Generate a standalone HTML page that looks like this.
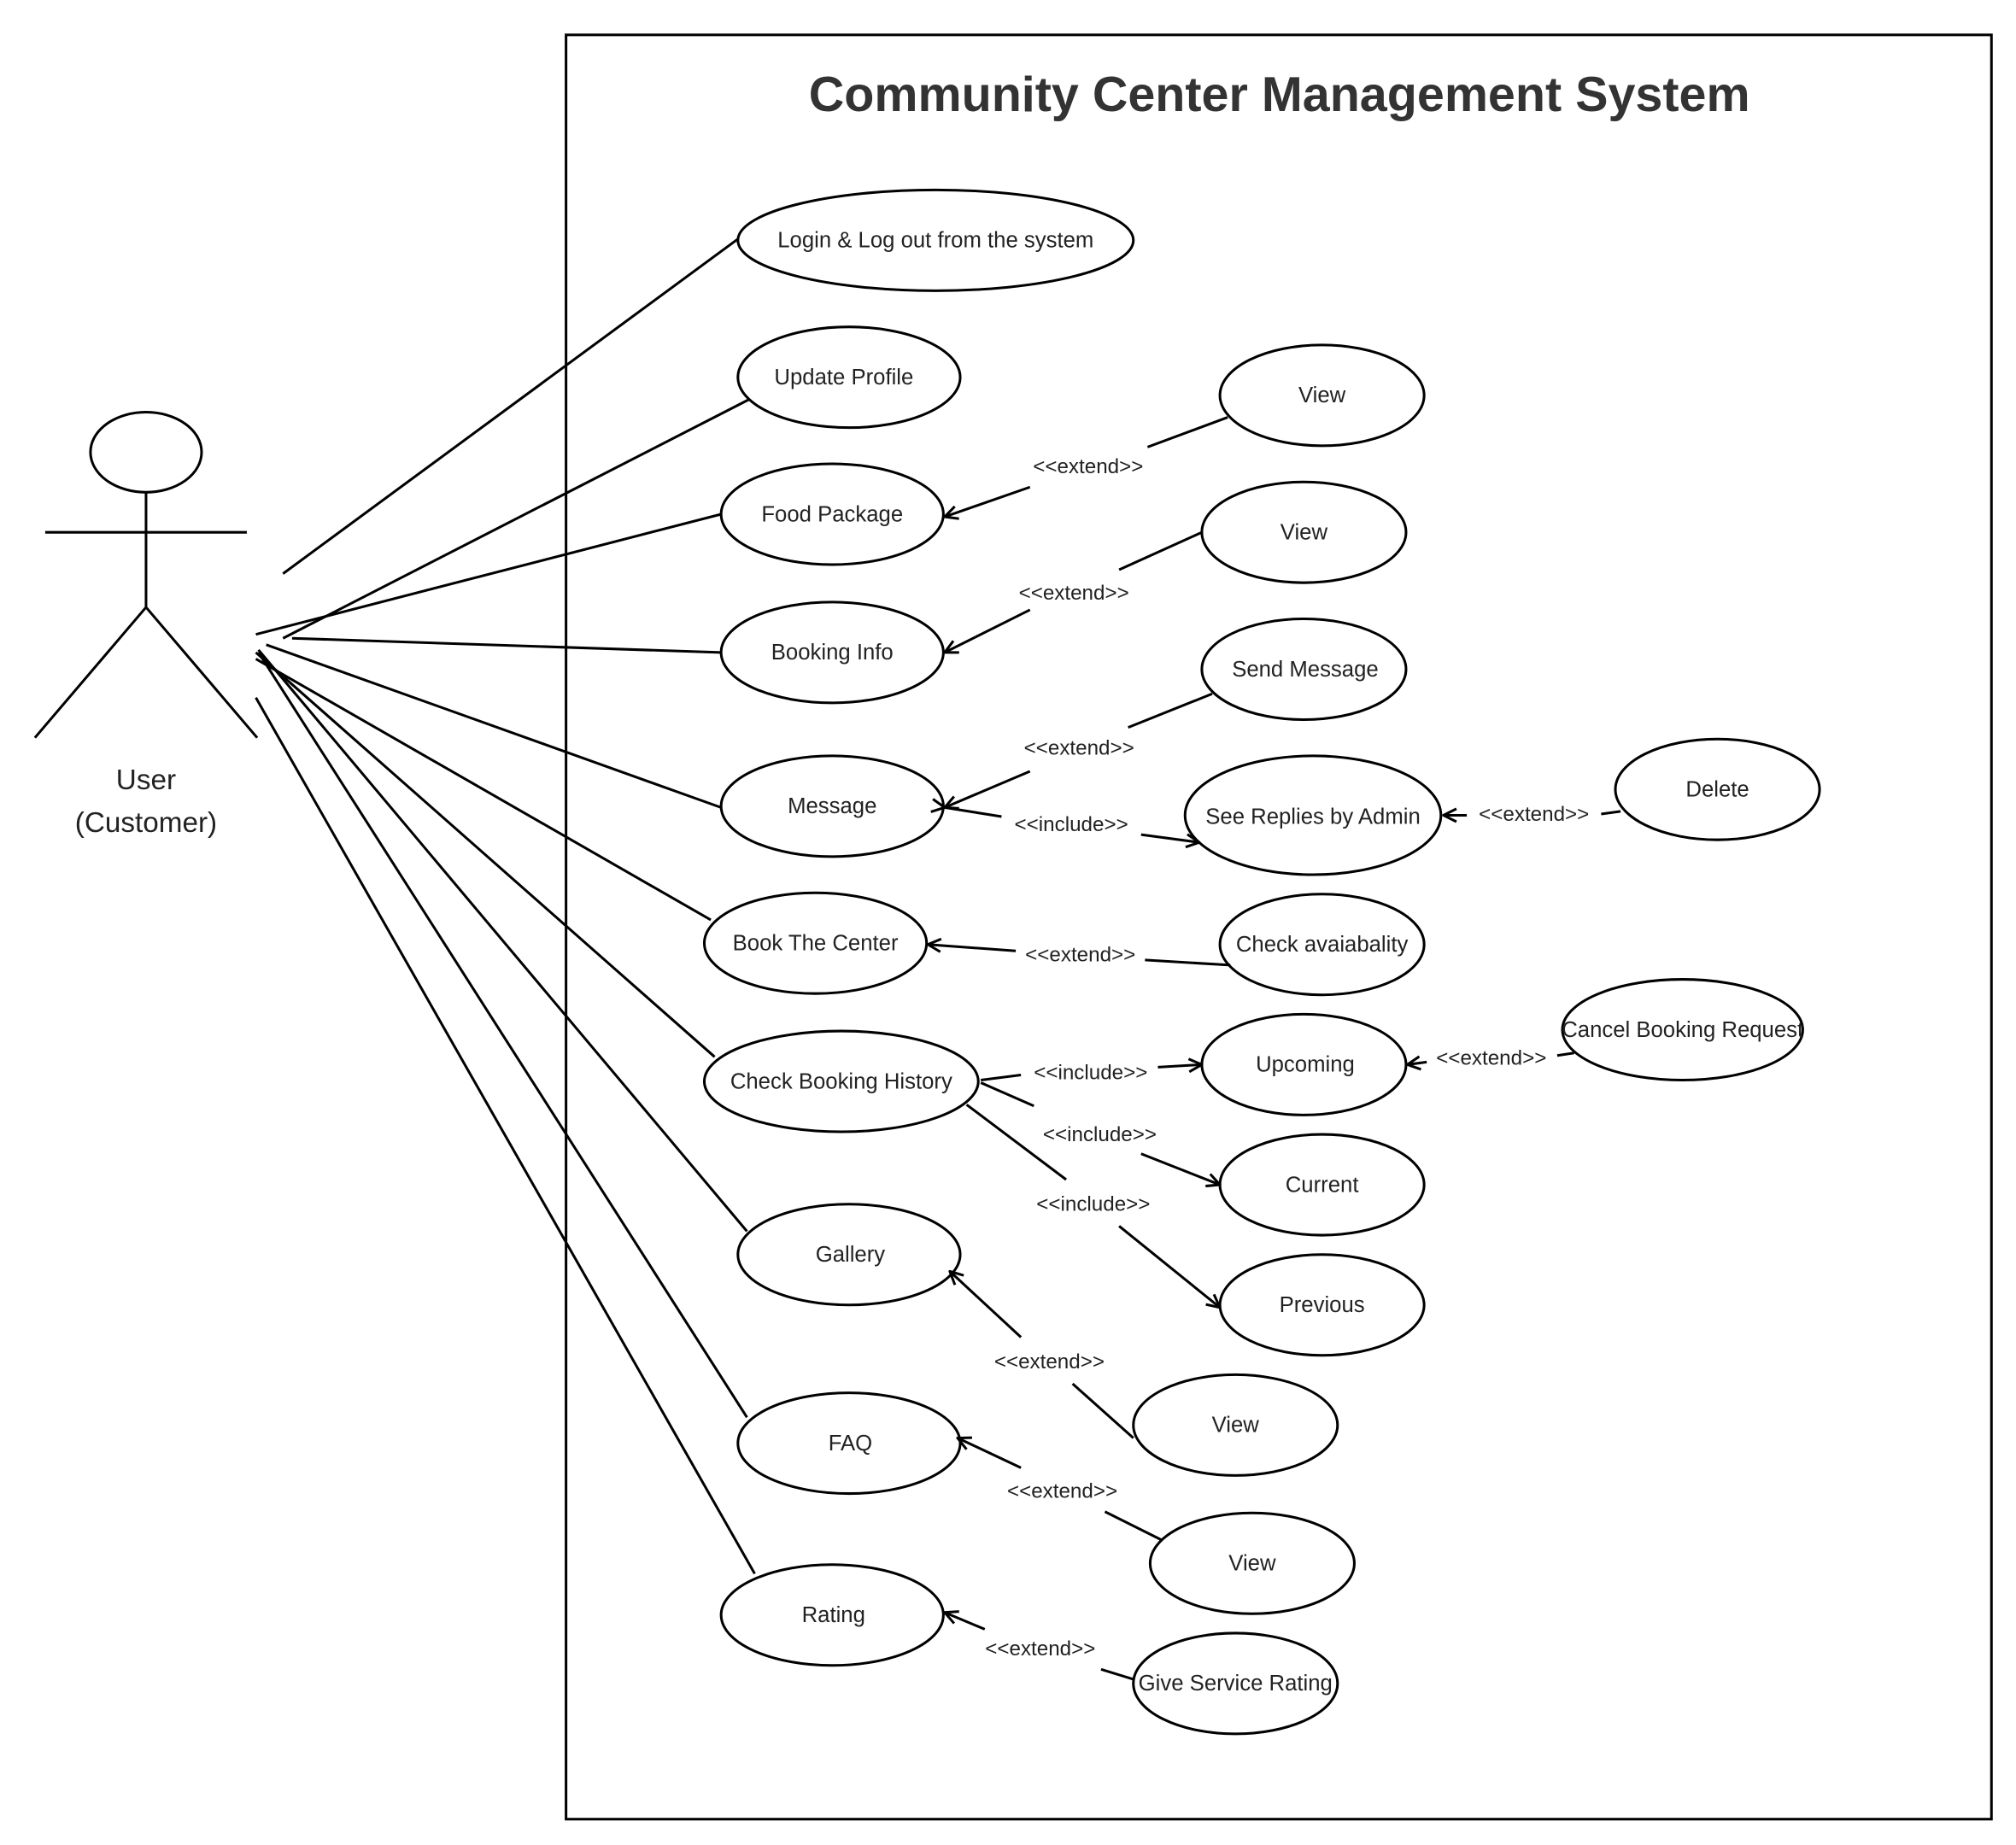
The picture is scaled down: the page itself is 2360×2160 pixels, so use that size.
<!DOCTYPE html>
<html><head><meta charset="utf-8"><style>
html,body{margin:0;padding:0;background:#fff;}
svg{display:block;}
text{font-family:"Liberation Sans",sans-serif;fill:#222;}
</style></head><body>
<svg width="2360" height="2160" viewBox="0 0 1560 1428" preserveAspectRatio="none" xmlns="http://www.w3.org/2000/svg">
<defs><marker id="a" viewBox="0 0 12 12" refX="11" refY="6" markerWidth="12" markerHeight="12" markerUnits="userSpaceOnUse" orient="auto"><path d="M1,1 L11,6 L1,11" fill="none" stroke="#000" stroke-width="2"/></marker></defs>
<g stroke="#000" stroke-width="2" fill="none">
<rect x="438" y="27" width="1103" height="1381"/>
<ellipse cx="113" cy="350" rx="43" ry="31"/>
<line x1="113" y1="381" x2="113" y2="470"/>
<line x1="35" y1="412" x2="191" y2="412"/>
<line x1="113" y1="470" x2="27" y2="571"/>
<line x1="113" y1="470" x2="199" y2="571"/>
<line x1="219" y1="444" x2="571" y2="185"/>
<line x1="219" y1="494" x2="580" y2="309"/>
<line x1="198" y1="491" x2="558" y2="398"/>
<line x1="226" y1="494" x2="558" y2="505"/>
<line x1="206" y1="499" x2="558" y2="625"/>
<line x1="198" y1="510" x2="550" y2="712"/>
<line x1="198" y1="505" x2="553" y2="818"/>
<line x1="200" y1="503" x2="578" y2="953"/>
<line x1="200" y1="505" x2="578" y2="1097"/>
<line x1="198" y1="540" x2="584" y2="1218"/>
<ellipse cx="724" cy="186" rx="153" ry="39"/>
<ellipse cx="657" cy="292" rx="86" ry="39"/>
<ellipse cx="644" cy="398" rx="86" ry="39"/>
<ellipse cx="644" cy="505" rx="86" ry="39"/>
<ellipse cx="644" cy="624" rx="86" ry="39"/>
<ellipse cx="631" cy="730" rx="86" ry="39"/>
<ellipse cx="651" cy="837" rx="106" ry="39"/>
<ellipse cx="657" cy="971" rx="86" ry="39"/>
<ellipse cx="657" cy="1117" rx="86" ry="39"/>
<ellipse cx="644" cy="1250" rx="86" ry="39"/>
<ellipse cx="1023" cy="306" rx="79" ry="39"/>
<ellipse cx="1009" cy="412" rx="79" ry="39"/>
<ellipse cx="1009" cy="518" rx="79" ry="39"/>
<ellipse cx="1016" cy="631" rx="99" ry="46"/>
<ellipse cx="1329" cy="611" rx="79" ry="39"/>
<ellipse cx="1023" cy="731" rx="79" ry="39"/>
<ellipse cx="1009" cy="824" rx="79" ry="39"/>
<ellipse cx="1302" cy="797" rx="93" ry="39"/>
<ellipse cx="1023" cy="917" rx="79" ry="39"/>
<ellipse cx="1023" cy="1010" rx="79" ry="39"/>
<ellipse cx="956" cy="1103" rx="79" ry="39"/>
<ellipse cx="969" cy="1210" rx="79" ry="39"/>
<ellipse cx="956" cy="1303" rx="79" ry="39"/>
<polyline points="950,323 888,346"/><polyline points="797,377 731,400" marker-end="url(#a)"/>
<polyline points="930,412 866,441"/><polyline points="797,472 731,505" marker-end="url(#a)"/>
<polyline points="938,537 873,563"/><polyline points="797,597 731,625" marker-end="url(#a)"/>
<polyline points="731,625 775,632" marker-start="url(#a)"/><polyline points="883,646 928,652" marker-end="url(#a)"/>
<polyline points="1254,628 1239,630"/><polyline points="1135,631 1117,631" marker-end="url(#a)"/>
<polyline points="952,747 886,743"/><polyline points="786,736 718,731" marker-end="url(#a)"/>
<polyline points="759,836 790,832"/><polyline points="896,826 930,824" marker-end="url(#a)"/>
<polyline points="1218,815 1205,817"/><polyline points="1104,822 1089,824" marker-end="url(#a)"/>
<polyline points="759,838 800,856"/><polyline points="883,893 944,917" marker-end="url(#a)"/>
<polyline points="748,855 825,913"/><polyline points="866,949 944,1012" marker-end="url(#a)"/>
<polyline points="877,1113 830,1071"/><polyline points="790,1035 735,984" marker-end="url(#a)"/>
<polyline points="899,1192 855,1170"/><polyline points="790,1136 741,1113" marker-end="url(#a)"/>
<polyline points="878,1300 852,1292"/><polyline points="762,1261 731,1248" marker-end="url(#a)"/>
</g>
<text x="990" y="86" font-size="38" font-weight="bold" text-anchor="middle" style="fill:#333">Community Center Management System</text>
<g font-size="22" text-anchor="middle"><text x="113" y="611">User</text><text x="113" y="644">(Customer)</text></g>
<g font-size="17" text-anchor="middle" dominant-baseline="middle">
<text x="724" y="187">Login &amp; Log out from the system</text>
<text x="653" y="293">Update Profile</text>
<text x="644" y="399">Food Package</text>
<text x="644" y="506">Booking Info</text>
<text x="644" y="625">Message</text>
<text x="631" y="731">Book The Center</text>
<text x="651" y="838">Check Booking History</text>
<text x="658" y="972">Gallery</text>
<text x="658" y="1118">FAQ</text>
<text x="645" y="1251">Rating</text>
<text x="1023" y="307">View</text>
<text x="1009" y="413">View</text>
<text x="1010" y="519">Send Message</text>
<text x="1016" y="633">See Replies by Admin</text>
<text x="1329" y="612">Delete</text>
<text x="1023" y="732">Check avaiabality</text>
<text x="1010" y="825">Upcoming</text>
<text x="1302" y="798">Cancel Booking Request</text>
<text x="1023" y="918">Current</text>
<text x="1023" y="1011">Previous</text>
<text x="956" y="1104">View</text>
<text x="969" y="1211">View</text>
<text x="956" y="1304">Give Service Rating</text>
</g>
<g font-size="16" text-anchor="middle" dominant-baseline="middle">
<text x="842" y="362">&lt;&lt;extend&gt;&gt;</text>
<text x="831" y="460">&lt;&lt;extend&gt;&gt;</text>
<text x="835" y="580">&lt;&lt;extend&gt;&gt;</text>
<text x="829" y="639">&lt;&lt;include&gt;&gt;</text>
<text x="1187" y="631">&lt;&lt;extend&gt;&gt;</text>
<text x="836" y="740">&lt;&lt;extend&gt;&gt;</text>
<text x="844" y="831">&lt;&lt;include&gt;&gt;</text>
<text x="1154" y="820">&lt;&lt;extend&gt;&gt;</text>
<text x="851" y="879">&lt;&lt;include&gt;&gt;</text>
<text x="846" y="933">&lt;&lt;include&gt;&gt;</text>
<text x="812" y="1055">&lt;&lt;extend&gt;&gt;</text>
<text x="822" y="1155">&lt;&lt;extend&gt;&gt;</text>
<text x="805" y="1277">&lt;&lt;extend&gt;&gt;</text>
</g>
</svg>
</body></html>
